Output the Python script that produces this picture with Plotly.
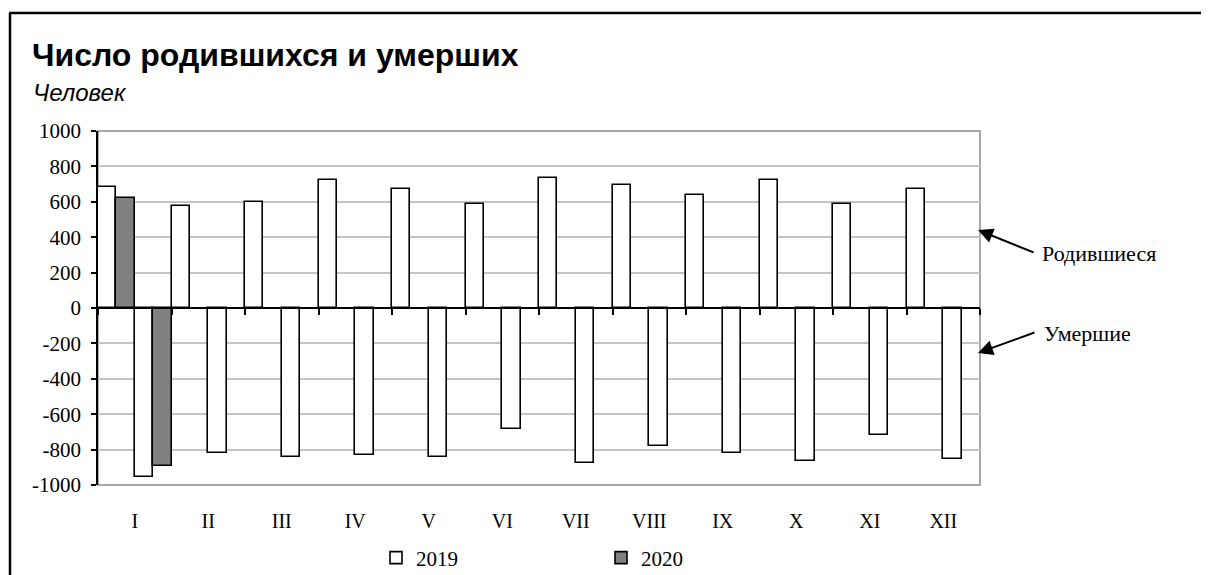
import plotly.graph_objects as go

months = ["I", "II", "III", "IV", "V", "VI", "VII", "VIII", "IX", "X", "XI", "XII"]
births_2019 = [681, 578, 598, 722, 672, 589, 734, 693, 640, 722, 589, 672]
births_2020 = [620, None, None, None, None, None, None, None, None, None, None, None]
deaths_2019 = [-954, -820, -841, -830, -841, -685, -873, -777, -820, -862, -717, -852]
deaths_2020 = [-892, None, None, None, None, None, None, None, None, None, None, None]
y_ticks = list(range(-1000, 1001, 200))
y_ticktext = [str(v) for v in y_ticks]

x = list(range(len(months)))
SERIF = "Liberation Serif"
SANS = "Liberation Sans"

OFF = 8  # page body margin
W, H = 1209 - OFF, 575 - OFF
# plot area in page coordinates (reference): x 98..980, y 131..485
L = 98 - OFF
T = 131 - OFF
R = W - (980 - OFF)
B = H - (485 - OFF)
pw, ph = W - L - R, H - T - B


def px(xp):
    return (xp - OFF - L) / pw


def py(yp):
    return (H - B - (yp - OFF)) / ph


white = dict(color="white", line=dict(color="black", width=1.6))
gray = dict(color="#808080", line=dict(color="black", width=1.6))

fig = go.Figure()
fig.add_trace(go.Bar(x=x, y=births_2019, name="2019", marker=white, legendgroup="2019"))
fig.add_trace(go.Bar(x=x, y=births_2020, name="2020", marker=gray, legendgroup="2020"))
fig.add_trace(go.Bar(x=x, y=deaths_2019, name="2019", marker=white, legendgroup="2019", showlegend=False))
fig.add_trace(go.Bar(x=x, y=deaths_2020, name="2020", marker=gray, legendgroup="2020", showlegend=False))
# invisible trace to activate the zero-line category axis
fig.add_trace(go.Scatter(x=[x[0]], y=[0], xaxis="x2", mode="markers",
                         marker=dict(opacity=0), showlegend=False, hoverinfo="skip"))

boundaries = [i - 0.5 for i in range(len(months) + 1)]

fig.update_layout(
    width=W, height=H,
    margin=dict(l=L, r=R, t=T, b=B, autoexpand=False),
    paper_bgcolor="white", plot_bgcolor="white",
    font=dict(family=SERIF, color="black"),
    barmode="group", bargap=0, bargroupgap=0,
    showlegend=True,
    legend=dict(orientation="h", x=px(376), y=py(558), xanchor="left", yanchor="middle",
                font=dict(family=SERIF, size=21, color="black"),
                entrywidth=180, entrywidthmode="pixels", traceorder="normal",
                itemwidth=30),
    xaxis=dict(range=[-0.5, len(months) - 0.5], tickvals=x, ticktext=months,
               ticks="outside", ticklen=18, tickcolor="rgba(0,0,0,0)",
               showgrid=False, showline=False, zeroline=False,
               tickfont=dict(family=SERIF, size=20, color="black")),
    xaxis2=dict(overlaying="x", anchor="free", position=0.5, side="bottom",
                range=[-0.5, len(months) - 0.5], tickvals=boundaries,
                ticks="outside", ticklen=6, tickwidth=1.5, tickcolor="black",
                showticklabels=False, showgrid=False, zeroline=False,
                showline=True, linecolor="black", linewidth=1.5),
    yaxis=dict(range=[-1000, 1000], tickvals=y_ticks, ticktext=y_ticktext,
               ticks="outside", ticklen=5,
               tickwidth=1.5, tickcolor="black", showline=True, linecolor="black",
               linewidth=1.5, showgrid=True, gridcolor="#c4c4c4", gridwidth=1.5,
               zeroline=False, ticklabelstandoff=6,
               tickfont=dict(family=SERIF, size=21, color="black")),
    title=dict(text="<b>Число родившихся и умерших</b>", xref="container", yref="container",
               x=(32 - OFF) / W, y=1 - (55 - OFF) / H, xanchor="left", yanchor="middle",
               font=dict(family=SANS, size=32, color="black")),
    annotations=[
        dict(text="<i>Человек</i>", xref="paper", yref="paper", x=px(31), y=py(92),
             xanchor="left", yanchor="middle", showarrow=False,
             font=dict(family=SANS, size=24, color="black")),
        dict(text="Родившиеся", xref="paper", yref="paper", x=px(1040), y=py(253),
             xanchor="left", yanchor="middle", showarrow=False,
             font=dict(family=SERIF, size=22, color="black")),
        dict(text="Умершие", xref="paper", yref="paper", x=px(1042), y=py(333),
             xanchor="left", yanchor="middle", showarrow=False,
             font=dict(family=SERIF, size=22, color="black")),
        dict(text="", xref="paper", yref="paper", x=px(978), y=py(230),
             showarrow=True, ax=57, ay=23, arrowhead=2, arrowsize=1.5,
             arrowwidth=2, arrowcolor="black", standoff=0),
        dict(text="", xref="paper", yref="paper", x=px(978), y=py(353),
             showarrow=True, ax=58, ay=-21, arrowhead=2, arrowsize=1.5,
             arrowwidth=2, arrowcolor="black", standoff=0),
    ],
    shapes=[
        dict(type="rect", xref="paper", yref="paper", x0=0, x1=1, y0=0, y1=1,
             line=dict(color="#8c8c8c", width=1.5), layer="below"),
        dict(type="line", xref="paper", yref="paper", x0=px(9), x1=px(1215),
             y0=py(13), y1=py(13), line=dict(color="black", width=2.5)),
        dict(type="line", xref="paper", yref="paper", x0=px(10), x1=px(10),
             y0=py(13), y1=py(580), line=dict(color="black", width=2.5)),
    ],
)

fig.write_html("out.html")
